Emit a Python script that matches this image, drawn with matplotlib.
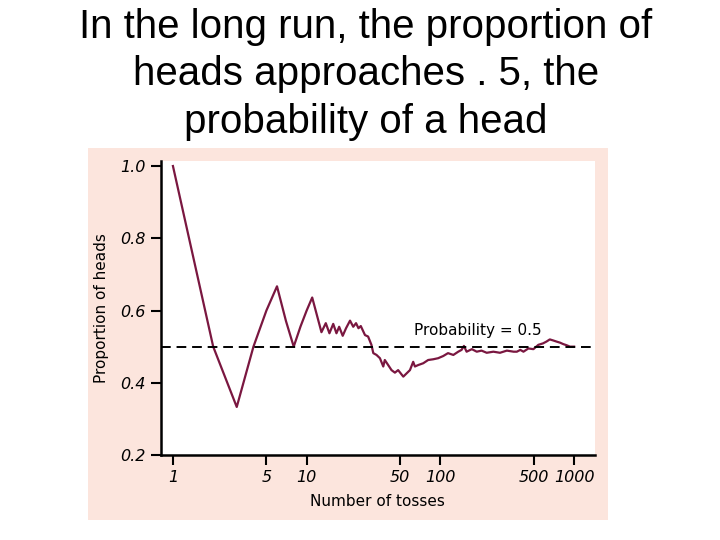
import matplotlib
matplotlib.use("Agg")
import matplotlib.pyplot as plt
from matplotlib.patches import Rectangle

# число бросков и доля орлов
tosses = [1, 2, 3, 4, 5, 6, 7, 8, 9, 10, 11,
          12.9, 13.9, 14.8, 15.8, 16.7, 17.5, 18.6, 19.7, 21.1, 22.3, 23.4, 24.4, 25.4,
          27.3, 28.8, 30.5, 31.5, 33.3, 35.3, 37.4, 38.4, 40.7, 43.1, 45.7, 48.3,
          52.8, 55.9, 59.2, 62.6, 64.5, 68.2, 74.4, 81.0, 88.3, 96.3, 99, 105, 114,
          125, 136, 144, 150, 157, 172, 187, 203, 222, 249, 279, 314, 353, 373, 396,
          418, 455, 496, 540, 585, 621, 658, 699, 739, 785, 830, 877, 932, 1000]
prop_heads = [1.0, 0.5, 0.333, 0.5, 0.6, 0.667, 0.571, 0.5, 0.556, 0.6, 0.636,
              0.540, 0.565, 0.537, 0.563, 0.537, 0.555, 0.530, 0.551, 0.572, 0.555, 0.565, 0.551, 0.557,
              0.532, 0.528, 0.505, 0.482, 0.477, 0.468, 0.445, 0.463, 0.449, 0.435, 0.428, 0.435,
              0.417, 0.426, 0.435, 0.458, 0.445, 0.449, 0.454, 0.463, 0.465, 0.468, 0.470, 0.474, 0.482,
              0.477, 0.486, 0.491, 0.502, 0.486, 0.493, 0.486, 0.489, 0.483, 0.486, 0.483, 0.489, 0.486, 0.486, 0.491,
              0.486, 0.495, 0.493, 0.505, 0.509, 0.514, 0.520, 0.517, 0.514, 0.511, 0.507, 0.504, 0.500, 0.500]

x_ticks = [1, 5, 10, 50, 100, 500, 1000]
y_ticks = [0.2, 0.4, 0.6, 0.8, 1.0]

pink = "#fce5dd"
curve_color = "#7a1740"

fig = plt.figure(figsize=(7.2, 5.4), dpi=100)

# розовая подложка под графиком (zorder ниже осей)
fig.patches.append(Rectangle((88 / 720, 1 - 520 / 540), 520 / 720, 372 / 540,
                             transform=fig.transFigure, facecolor=pink,
                             edgecolor="none", zorder=-5))

fig.text(0.508, 0.985, "In the long run, the proportion of\nheads approaches . 5, the\nprobability of a head",
         ha="center", va="top", fontsize=29, family="Liberation Sans", linespacing=1.31)

ax = fig.add_axes([0.2232, 0.1574, 0.6032, 0.5445])
ax.set_facecolor("white")
ax.plot(tosses, prop_heads, color=curve_color, lw=1.6)
ax.axhline(0.5, color="black", lw=1.4, ls=(0, (5, 3)))
ax.text(63, 0.546, "Probability = 0.5", fontsize=11, va="center")

ax.set_xscale("log")
ax.set_xlim(0.81, 1433)
ax.set_ylim(0.2, 1.014)
ax.set_xticks(x_ticks)
ax.set_xticklabels([str(t) for t in x_ticks], style="italic")
ax.minorticks_off()
ax.set_yticks(y_ticks)
ax.set_yticklabels([f"{t:.1f}" for t in y_ticks], style="italic")
ax.tick_params(direction="out", length=7, width=1.5, labelsize=11.5, pad=4)

for side in ["top", "right"]:
    ax.spines[side].set_visible(False)
for side in ["left", "bottom"]:
    ax.spines[side].set_linewidth(1.8)

ax.set_xlabel("Number of tosses", fontsize=11, labelpad=6)
ax.set_ylabel("Proportion of heads", fontsize=11, labelpad=8)

fig.savefig("out.png", dpi=100)
